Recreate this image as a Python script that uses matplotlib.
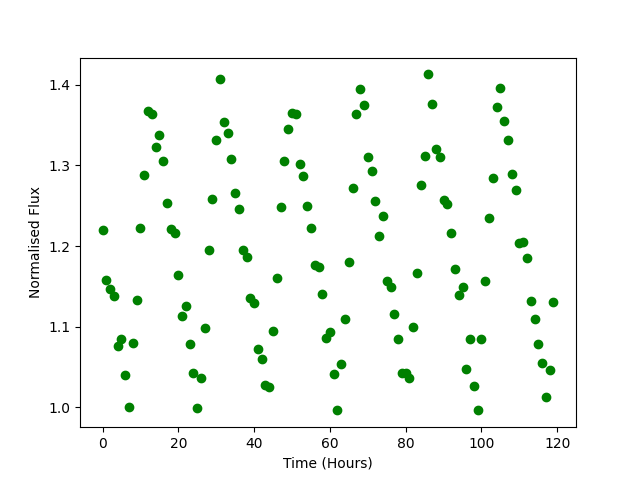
import numpy as np
import matplotlib
matplotlib.use('Agg')
import matplotlib.pyplot as plt

# hourly samples
time_hours = np.arange(120)
flux = [
    1.220, 1.158, 1.147, 1.138, 1.076, 1.084, 1.040, 1.000, 1.080, 1.133,
    1.222, 1.288, 1.367, 1.364, 1.323, 1.338, 1.305, 1.253, 1.221, 1.216,
    1.164, 1.113, 1.125, 1.078, 1.042, 0.999, 1.036, 1.098, 1.195, 1.258,
    1.331, 1.407, 1.354, 1.340, 1.308, 1.266, 1.246, 1.195, 1.186, 1.135,
    1.129, 1.072, 1.060, 1.027, 1.025, 1.095, 1.160, 1.248, 1.305, 1.345,
    1.365, 1.364, 1.302, 1.287, 1.250, 1.222, 1.176, 1.174, 1.140, 1.086,
    1.093, 1.041, 0.996, 1.054, 1.110, 1.180, 1.272, 1.364, 1.395, 1.375,
    1.310, 1.293, 1.256, 1.213, 1.237, 1.156, 1.149, 1.116, 1.084, 1.042,
    1.042, 1.036, 1.100, 1.166, 1.276, 1.312, 1.413, 1.376, 1.321, 1.310,
    1.257, 1.252, 1.216, 1.171, 1.139, 1.149, 1.047, 1.084, 1.026, 0.996,
    1.084, 1.156, 1.235, 1.285, 1.372, 1.396, 1.355, 1.332, 1.290, 1.269,
    1.204, 1.205, 1.185, 1.132, 1.109, 1.078, 1.055, 1.013, 1.046, 1.130,
]

fig = plt.figure(figsize=(6.4, 4.8), dpi=100)
plt.plot(time_hours, flux, 'o', color='green')
plt.xlabel('Time (Hours)')
plt.ylabel('Normalised Flux')
plt.savefig('out.png')
